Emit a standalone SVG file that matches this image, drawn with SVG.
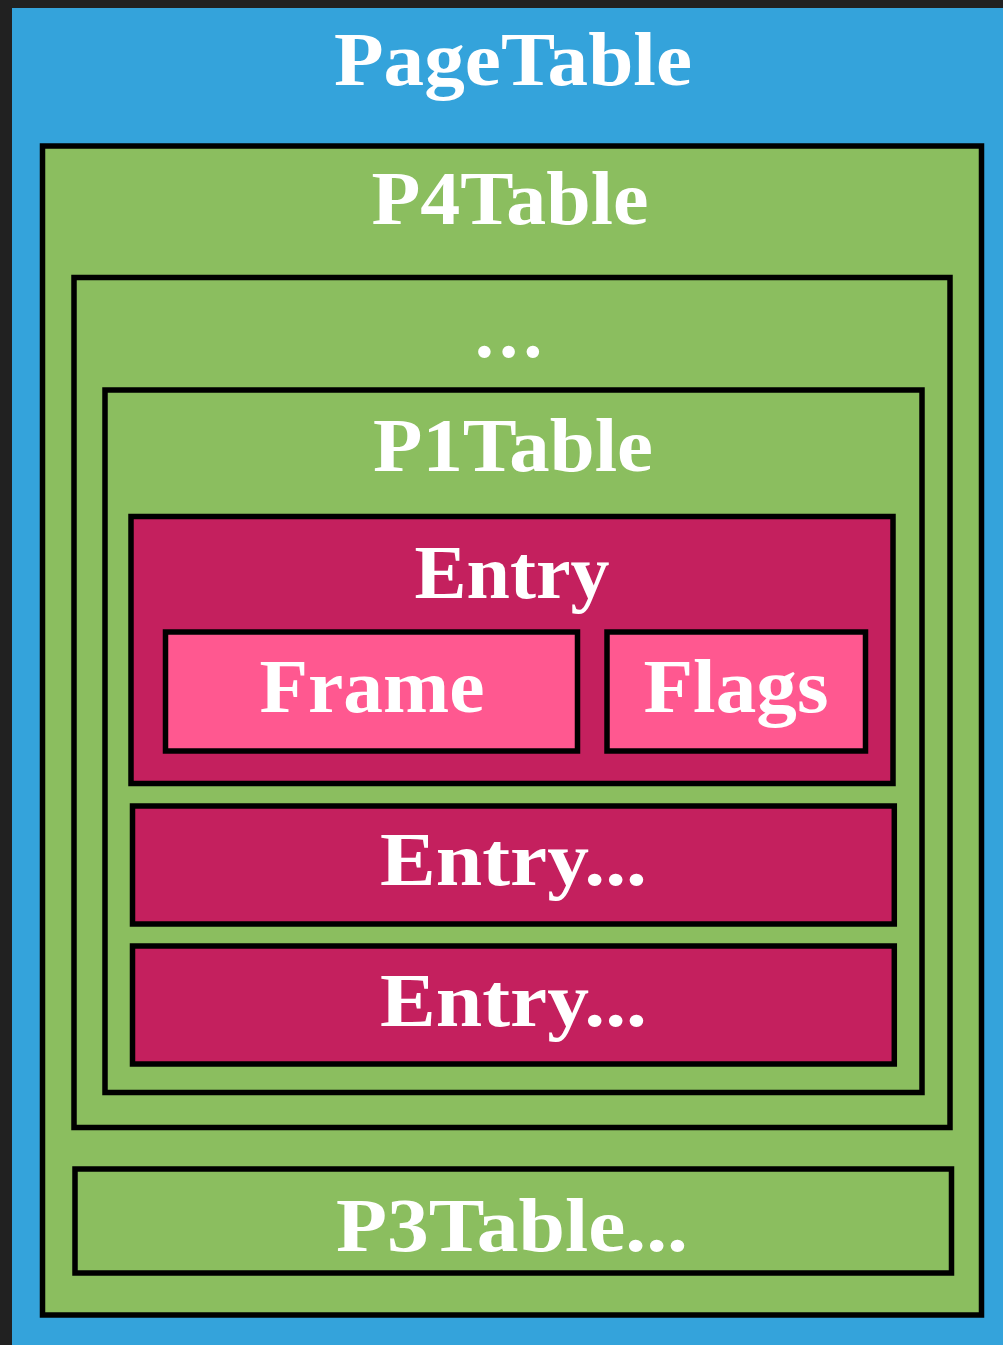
<svg xmlns="http://www.w3.org/2000/svg" width="1003" height="1345" viewBox="0 0 1003 1345">
<style>
.box{stroke:#000;stroke-width:5.5}
.green{fill:#8BBE5F}
.entry{fill:#C4205E}
.pink{fill:#FF5890}
.t{font-family:"Liberation Serif","Times New Roman",serif;font-weight:bold;font-size:77px;fill:#fff;text-anchor:middle}
</style>
<rect x="0" y="0" width="1003" height="1345" fill="#212121"/>
<g id="pagetable">
<rect x="12" y="8" width="991" height="1337" fill="#34A3DB"/>
<text class="t" x="513" y="85" textLength="358" lengthAdjust="spacingAndGlyphs">PageTable</text>
</g>
<g id="p4table">
<rect class="box green" x="42.5" y="146" width="939" height="1169"/>
<text class="t" x="510" y="224" textLength="277" lengthAdjust="spacingAndGlyphs">P4Table</text>
</g>
<g id="ellipsis-level">
<rect class="box green" x="74" y="277.5" width="876" height="850"/>
<text class="t" x="511" y="357" letter-spacing="5">...</text>
</g>
<g id="p1table">
<rect class="box green" x="105" y="390" width="817" height="702.5"/>
<text class="t" x="513" y="471" textLength="280" lengthAdjust="spacingAndGlyphs">P1Table</text>
</g>
<g id="entry">
<rect class="box entry" x="131" y="516.5" width="762" height="267"/>
<text class="t" x="512" y="598" textLength="195" lengthAdjust="spacingAndGlyphs">Entry</text>
</g>
<g id="frame">
<rect class="box pink" x="165.5" y="632" width="412" height="119"/>
<text class="t" x="372" y="712" textLength="225" lengthAdjust="spacingAndGlyphs">Frame</text>
</g>
<g id="flags">
<rect class="box pink" x="607" y="632" width="258.5" height="119"/>
<text class="t" x="736" y="712" textLength="185" lengthAdjust="spacingAndGlyphs">Flags</text>
</g>
<g id="entry2">
<rect class="box entry" x="132.5" y="806" width="761.8" height="118"/>
<text class="t" x="513.5" y="885" textLength="267" lengthAdjust="spacingAndGlyphs">Entry...</text>
</g>
<g id="entry3">
<rect class="box entry" x="132.5" y="946" width="761.8" height="118"/>
<text class="t" x="513.5" y="1026" textLength="267" lengthAdjust="spacingAndGlyphs">Entry...</text>
</g>
<g id="p3table">
<rect class="box green" x="75" y="1169" width="876.5" height="104"/>
<text class="t" x="512" y="1251" textLength="352" lengthAdjust="spacingAndGlyphs">P3Table...</text>
</g>
<g id="connectors"></g>
</svg>
